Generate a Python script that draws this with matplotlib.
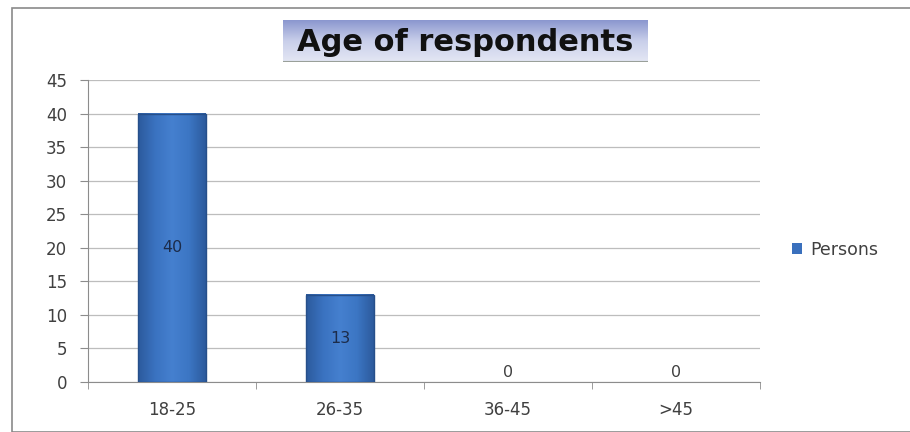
import numpy as np
import matplotlib.pyplot as plt
from matplotlib.patches import Rectangle
from matplotlib.colors import LinearSegmentedColormap

categories = ['18-25', '26-35', '36-45', '>45']
persons = [40, 13, 0, 0]
y_ticks = [0, 5, 10, 15, 20, 25, 30, 35, 40, 45]

plt.rcParams['font.family'] = ['DejaVu Sans']

fig = plt.figure(figsize=(9.1, 4.32), dpi=100)

# outer frame like the spreadsheet chart border
fig.patches.append(Rectangle((12 / 910, 0.0), 1.2, 1 - 8 / 432, transform=fig.transFigure,
                             fill=False, edgecolor='#8a8a8a', linewidth=1.2))

ax = fig.add_axes([88 / 910, 50 / 432, 672 / 910, 302 / 432])
x = np.arange(len(categories))
bars = ax.bar(x, persons, width=0.40, color='#3a70bd', edgecolor='none',
              linewidth=0, zorder=3, label='Persons')

# glossy horizontal shading on the bars
bar_cmap = LinearSegmentedColormap.from_list(
    'barshade', ['#2c5a9c', '#3a72c0', '#4580cf', '#3c76c4', '#2c5a9c'])
grad = np.linspace(0, 1, 256).reshape(1, -1)
for b in bars:
    if b.get_height() <= 0:
        continue
    x0, w, h = b.get_x(), b.get_width(), b.get_height()
    ax.imshow(grad, extent=[x0, x0 + w, 0, h], aspect='auto', cmap=bar_cmap,
              zorder=3.5)
    ax.add_patch(Rectangle((x0, 0), w, h, fill=False, edgecolor='#264f8a',
                           linewidth=1.0, zorder=4))

for xi, v in zip(x, persons):
    if v > 0:
        ax.text(xi, v / 2, str(v), ha='center', va='center', fontsize=11.5,
                color='#1c2c4a', zorder=5)
    else:
        ax.text(xi, 0.3, str(v), ha='center', va='bottom', fontsize=11.5,
                color='#404040', zorder=5)

ax.set_xlim(-0.5, len(categories) - 0.5)
ax.set_ylim(0, 45)
ax.set_yticks(y_ticks)
ax.yaxis.grid(True, color='#bdbdbd', linewidth=0.9, zorder=0)
ax.set_axisbelow(True)

ax.set_xticks(x)
ax.set_xticklabels(categories)
ax.set_xticks(np.arange(-0.5, len(categories)), minor=True)
ax.tick_params(axis='x', which='major', length=0, pad=14, labelsize=12, labelcolor='#404040')
ax.tick_params(axis='x', which='minor', length=5, color='#8c8c8c')
ax.tick_params(axis='y', length=6, color='#8c8c8c', labelsize=12, labelcolor='#404040', pad=9)

for s in ['top', 'right']:
    ax.spines[s].set_visible(False)
ax.spines['left'].set_color('#8c8c8c')
ax.spines['bottom'].set_color('#8c8c8c')

# legend
leg = fig.legend(handles=[bars], labels=['Persons'], loc='center left',
                 bbox_to_anchor=(776 / 910, 1 - 250 / 432), frameon=False,
                 fontsize=12.5, handlelength=0.6, handleheight=0.6, handletextpad=0.5)
for t in leg.get_texts():
    t.set_color('#404040')

# title with gradient box
tax = fig.add_axes([283 / 910, 1 - 62 / 432, 365 / 910, 42 / 432])
tgrad = np.linspace(0, 1, 100).reshape(-1, 1)
tcmap = LinearSegmentedColormap.from_list('tbox', ['#8b97cf', '#c9cfea', '#e4e7f4'])
tax.imshow(tgrad, aspect='auto', cmap=tcmap, extent=[0, 1, 0, 1], origin='upper')
tax.set_xlim(0, 1)
tax.set_ylim(0, 1)
tax.axis('off')
tax.plot([0, 1], [0.01, 0.01], color='#9aa09a', linewidth=1.5)
tax.text(0.5, 0.47, 'Age of respondents', ha='center', va='center', fontsize=22,
         fontweight='bold', color='#111111')

fig.savefig('out.png', dpi=100)
